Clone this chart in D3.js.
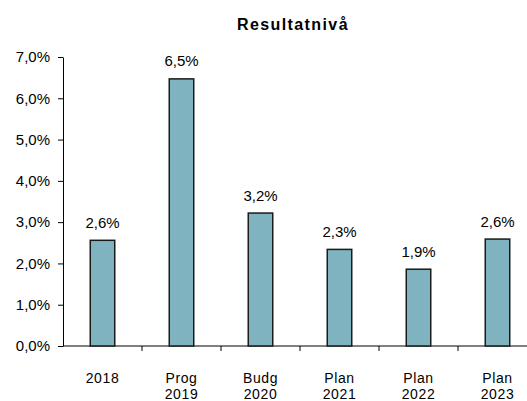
<!DOCTYPE html>
<html>
<head>
<meta charset="utf-8">
<script src="https://cdn.jsdelivr.net/npm/d3@7"></script>
<style>
  body { margin: 0; background: #fff; }
  svg { font-family: "Liberation Sans", Arial, sans-serif; }
</style>
</head>
<body>
<script>
// data
const categories = [["2018"], ["Prog", "2019"], ["Budg", "2020"], ["Plan", "2021"], ["Plan", "2022"], ["Plan", "2023"]]
const values = [2.56, 6.47, 3.22, 2.34, 1.86, 2.59]
const yTicks = [0, 1, 2, 3, 4, 5, 6, 7]

const width = 527, height = 401
const margin = {top: 57, right: -10, bottom: 55, left: 63}

const svg = d3.select('body').append('svg')
    .attr('width', width)
    .attr('height', height)

const xScale = d3.scaleBand()
    .domain(d3.range(categories.length))
    .range([margin.left, width - margin.right])
    .paddingInner(0.69).paddingOuter(0.345)

const yScale = d3.scaleLinear()
    .domain([0, 7])
    .range([height - margin.bottom, margin.top])

const fmt = v => d3.format('.1f')(v).replace('.', ',') + '%'

// title
svg.append('text')
    .attr('x', 293).attr('y', 30)
    .attr('text-anchor', 'middle')
    .style('font-size', '16px').style('font-weight', 'bold')
    .style('letter-spacing', '1.4px')
    .text('Resultatnivå')

// y axis
const yAxis = svg.append('g')
    .attr('transform', 'translate(' + margin.left + ',0)')
    .call(d3.axisLeft(yScale).tickValues(yTicks).tickSize(5).tickSizeOuter(0).tickFormat(fmt))
yAxis.selectAll('text').style('font-size', '15px').attr('fill', '#000').attr('x', -13)
yAxis.selectAll('line, path').attr('stroke', '#000')

// x axis: ticks at category boundaries
const step = xScale.step()
const bounds = d3.range(categories.length + 1).map(i => margin.left + i * step)
const xg = svg.append('g')
xg.append('line')
    .attr('x1', margin.left).attr('x2', width)
    .attr('y1', yScale(0)).attr('y2', yScale(0))
    .attr('stroke', '#000')
xg.selectAll('.tick').data(bounds.slice(1)).enter().append('line')
    .attr('x1', d => d).attr('x2', d => d)
    .attr('y1', yScale(0)).attr('y2', yScale(0) + 5)
    .attr('stroke', '#000')

// category labels, one text per line
categories.forEach((lines, i) => {
    svg.selectAll('.cat' + i).data(lines).enter().append('text')
        .attr('text-anchor', 'middle')
        .attr('x', xScale(i) + xScale.bandwidth() / 2)
        .attr('y', (d, j) => 383 + j * 15.5)
        .style('font-size', '14px')
        .style('letter-spacing', '0.6px')
        .text(d => d)
})

// bars
svg.selectAll('.bar').data(values).enter().append('rect')
    .attr('x', (d, i) => xScale(i))
    .attr('y', d => yScale(d))
    .attr('width', xScale.bandwidth())
    .attr('height', d => yScale(0) - yScale(d))
    .attr('fill', '#7fb3bf')
    .attr('stroke', '#1a1a1a')
    .attr('stroke-width', 1.5)

// value labels
svg.selectAll('.val').data(values).enter().append('text')
    .attr('text-anchor', 'middle')
    .attr('x', (d, i) => xScale(i) + xScale.bandwidth() / 2)
    .attr('y', d => yScale(d) - 12.5)
    .style('font-size', '15px')
    .text(fmt)
</script>
</body>
</html>
